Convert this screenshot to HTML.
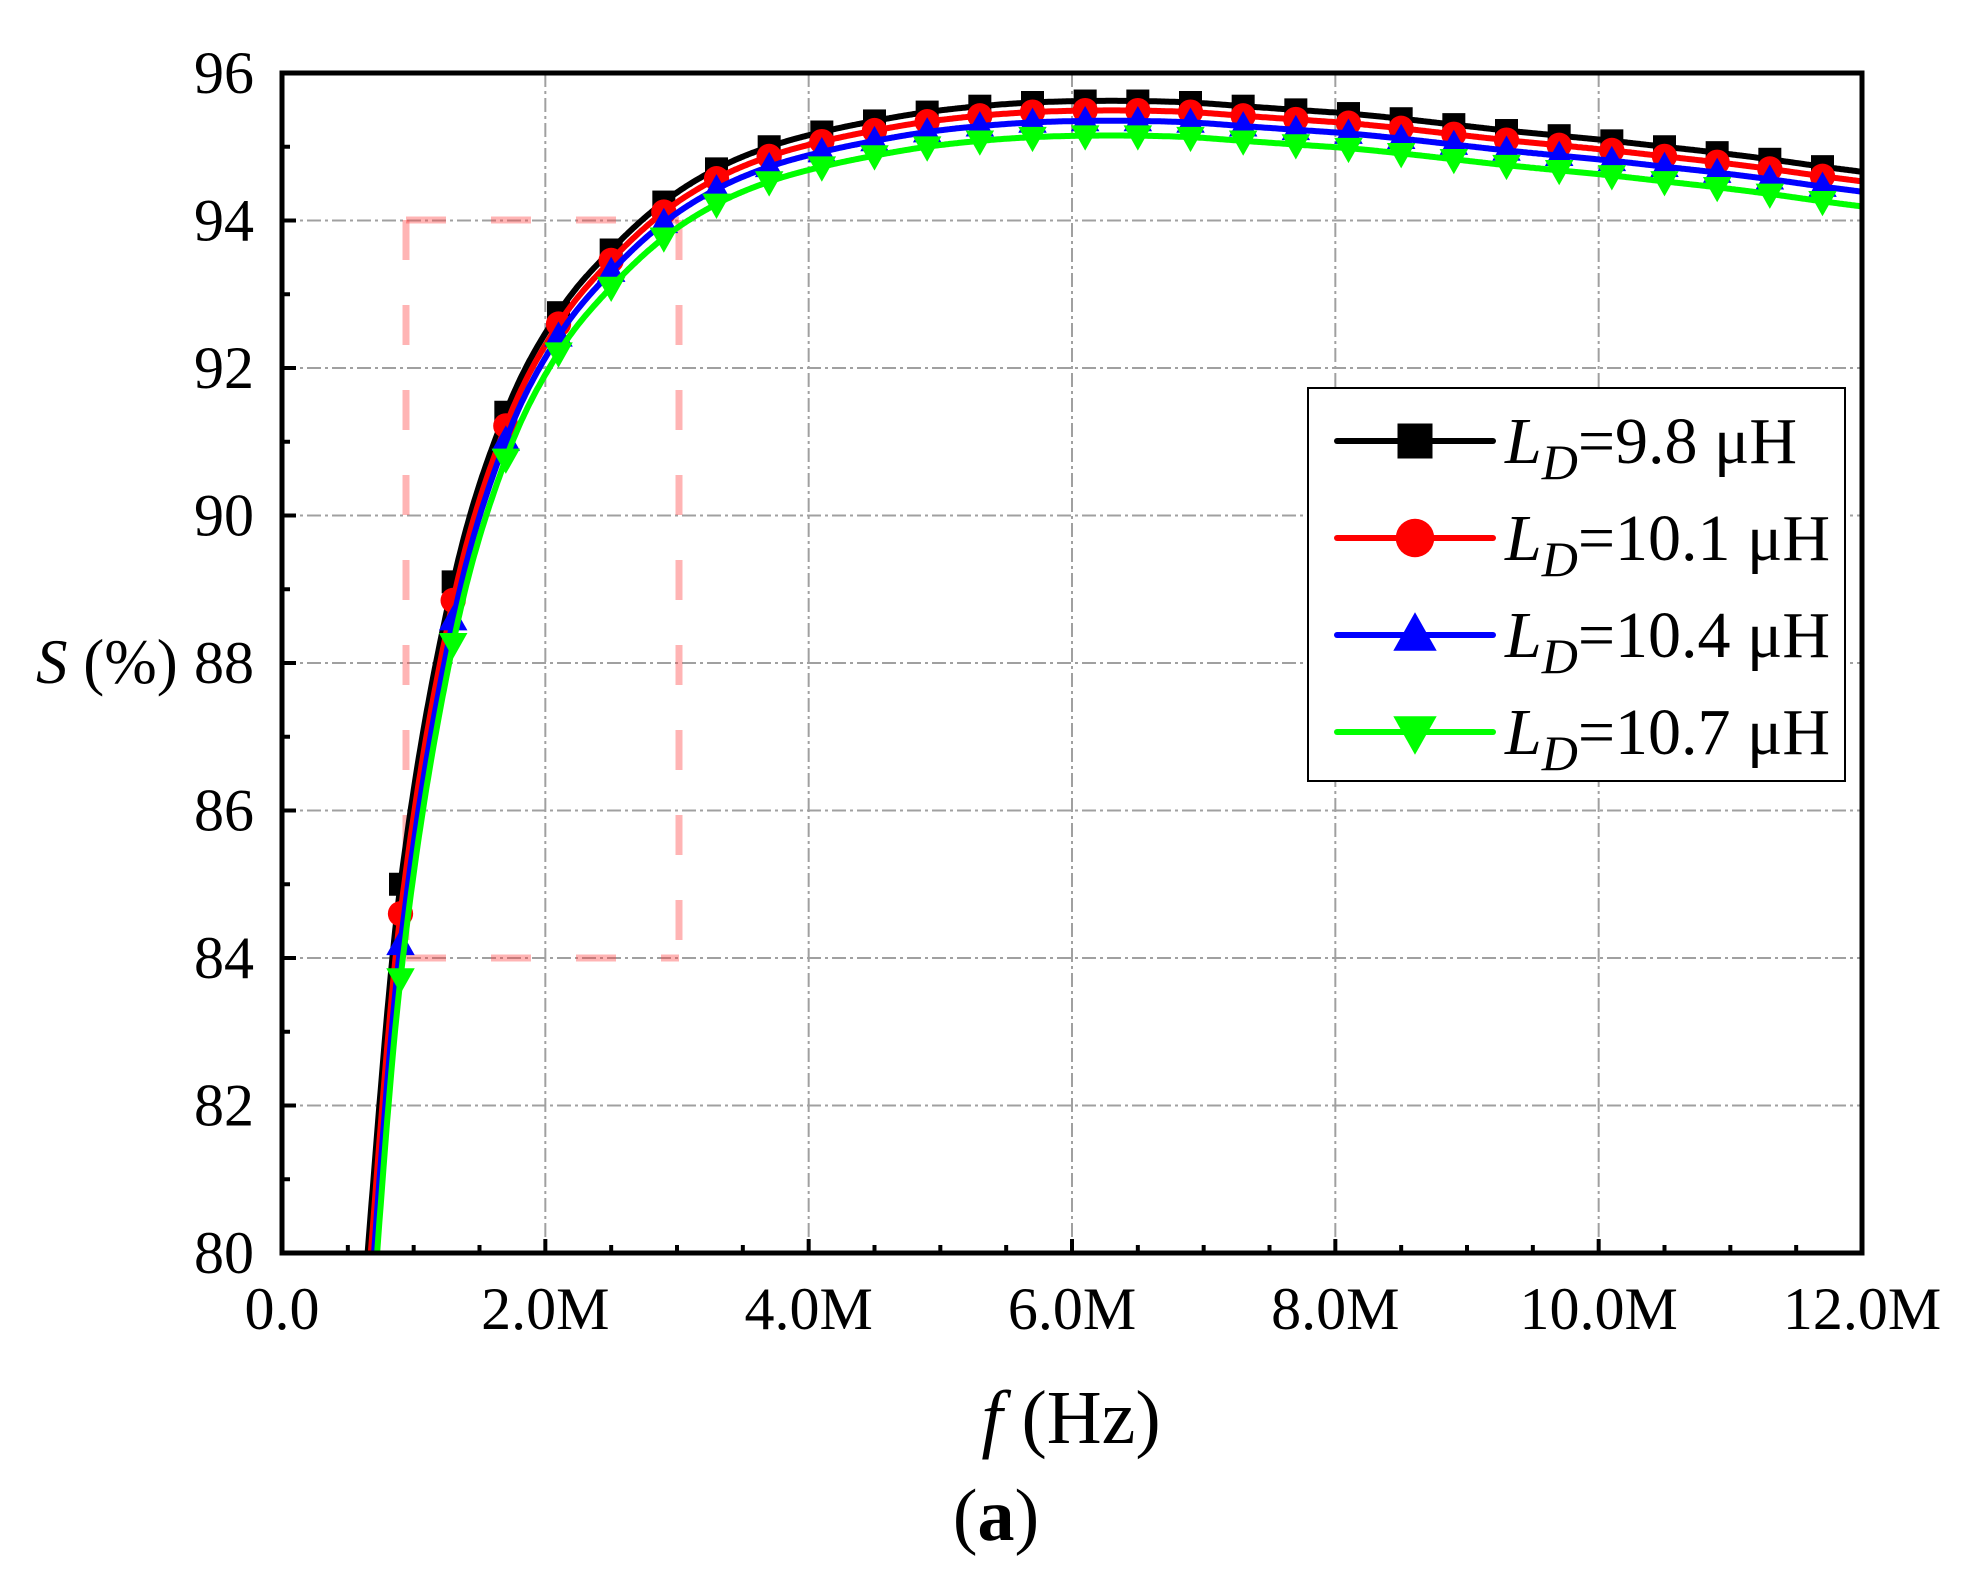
<!DOCTYPE html>
<html><head><meta charset="utf-8"><style>
html,body{margin:0;padding:0;background:#fff;}
svg{display:block;font-family:"Liberation Serif",serif;}
</style></head><body>
<svg id="s" width="1975" height="1582" viewBox="0 0 1975 1582" xmlns="http://www.w3.org/2000/svg">
<defs><clipPath id="cp"><rect x="282" y="73" width="1580" height="1180"/></clipPath></defs>
<g id="grid" stroke="#a0a0a0" stroke-width="2" stroke-dasharray="14,4,3,4"></g>
<g stroke="#ff4444" stroke-width="7" stroke-opacity="0.4" fill="none" stroke-dasharray="40,45">
<line x1="406" y1="220" x2="406" y2="958"/>
<line x1="679" y1="220" x2="679" y2="958"/>
<line x1="406" y1="220" x2="679" y2="220"/>
<line x1="406" y1="958" x2="679" y2="958"/>
</g>
<g id="curves" clip-path="url(#cp)"></g>
<rect x="282" y="73" width="1580" height="1180" fill="none" stroke="#000" stroke-width="5"/>
<g id="ticks" stroke="#000" stroke-width="4"></g>
<g id="labels" font-size="60" fill="#000"></g>
<text x="36" y="683" font-size="63"><tspan font-style="italic">S</tspan> (%)</text>
<text x="1071" y="1443" font-size="76" text-anchor="middle"><tspan font-style="italic">f</tspan>  (Hz)</text>
<text x="996" y="1540" font-size="74" text-anchor="middle">(<tspan font-weight="bold">a</tspan>)</text>
<rect x="1308" y="388" width="537" height="393" fill="#fff" stroke="#000" stroke-width="2"/>
<g id="legend"></g>
</svg>
<script>
var NS="http://www.w3.org/2000/svg";
function el(p,t,a,txt){var e=document.createElementNS(NS,t);for(var k in a)e.setAttribute(k,a[k]);if(txt!==undefined)e.textContent=txt;document.getElementById(p).appendChild(e);return e;}
var X=function(f){return 282+f*1580/12;}, Y=function(s){return 1253-(s-80)*1180/16;};
for(var i=1;i<6;i++){el("grid","line",{x1:X(2*i),x2:X(2*i),y1:73,y2:1253});}
for(var i=1;i<8;i++){el("grid","line",{x1:282,x2:1862,y1:Y(80+2*i),y2:Y(80+2*i)});}
for(var i=1;i<24;i++){var x=X(i*0.5);var L=(i%4==0)?14:8;el("ticks","line",{x1:x,x2:x,y1:1253,y2:1253-L});}
for(var i=1;i<16;i++){var y=Y(80+i);var L=(i%2==0)?14:8;el("ticks","line",{x1:282,x2:282+L,y1:y,y2:y});}
for(var i=0;i<=6;i++){var t=i==0?"0.0":(2*i)+".0M";el("labels","text",{x:X(2*i),y:1329,"text-anchor":"middle"},t);}
for(var i=0;i<=8;i++){el("labels","text",{x:254,y:Y(80+2*i)+20,"text-anchor":"end"},String(80+2*i));}
var B=[[0.55,77.2],[0.65,80],[0.9,85],[1.3,89.1],[1.7,91.4],[2.1,92.75],[2.5,93.6],[2.9,94.25],[3.3,94.7],[3.7,95.0],[4.1,95.2],[4.5,95.35],[4.9,95.47],[5.3,95.55],[5.7,95.6],[6.1,95.62],[6.5,95.62],[6.9,95.6],[7.3,95.55],[7.7,95.5],[8.1,95.45],[8.5,95.38],[8.9,95.3],[9.3,95.22],[9.7,95.15],[10.1,95.08],[10.5,95.0],[10.9,94.92],[11.3,94.83],[11.7,94.73],[12,94.66],[12.3,94.58]];
function bl(f){for(var i=0;i<B.length-1;i++){if(f<=B[i+1][0]){var p0=B[Math.max(i-1,0)],p1=B[i],p2=B[i+1],p3=B[Math.min(i+2,B.length-1)];var t=(f-p1[0])/(p2[0]-p1[0]);
var m1=(p2[1]-p0[1])/(p2[0]-p0[0])*(p2[0]-p1[0]),m2=(p3[1]-p1[1])/(p3[0]-p1[0])*(p2[0]-p1[0]);
var t2=t*t,t3=t2*t;return (2*t3-3*t2+1)*p1[1]+(t3-2*t2+t)*m1+(-2*t3+3*t2)*p2[1]+(t3-t2)*m2;}}return B[B.length-1][1];}
var S=[["#000",0,0,"sq","=9.8 μH"],["#ff0000",0.13,0.27,"ci","=10.1 μH"],["#0000ff",0.27,0.55,"tu","=10.4 μH"],["#00ff00",0.47,0.81,"td","=10.7 μH"]];
function marker(g,type,x,y,c,sz){
 if(type=="sq")el(g,"rect",{x:x-sz/2,y:y-sz/2,width:sz,height:sz,fill:c});
 else if(type=="ci")el(g,"circle",{cx:x,cy:y,r:sz*0.55,fill:c});
 else if(type=="tu")el(g,"polygon",{points:(x)+","+(y-sz*0.65)+" "+(x-sz*0.62)+","+(y+sz*0.45)+" "+(x+sz*0.62)+","+(y+sz*0.45),fill:c});
 else el(g,"polygon",{points:(x)+","+(y+sz*0.65)+" "+(x-sz*0.62)+","+(y-sz*0.45)+" "+(x+sz*0.62)+","+(y-sz*0.45),fill:c});
}
S.forEach(function(s,k){
 var fn=function(f){return bl(f)-(s[1]+s[2]*Math.exp(-(f-0.9)/0.5));};
 var d="";for(var f=0.58;f<=12.2;f+=0.01){d+=(d?"L":"M")+X(f).toFixed(1)+","+Y(fn(f)).toFixed(1);}
 el("curves","path",{d:d,fill:"none",stroke:s[0],"stroke-width":6});
 for(var f=0.9;f<=12.05;f+=0.4){marker("curves",s[3],X(f),Y(fn(f)),s[0],23);}
 var ly=441+97*k;
 el("legend","line",{x1:1337,x2:1493,y1:ly,y2:ly,stroke:s[0],"stroke-width":6,"stroke-linecap":"round"});
 marker("legend",s[3],1415,ly,s[0],35);
 var t=el("legend","text",{x:1505,y:ly+22,"font-size":66});
 var a=document.createElementNS(NS,"tspan");a.setAttribute("font-style","italic");a.textContent="L";t.appendChild(a);
 var b=document.createElementNS(NS,"tspan");b.setAttribute("font-style","italic");b.setAttribute("font-size","50");b.setAttribute("dy","16");b.textContent="D";t.appendChild(b);
 var c=document.createElementNS(NS,"tspan");c.setAttribute("dy","-16");c.textContent=s[4];t.appendChild(c);
});
</script>
</body></html>
